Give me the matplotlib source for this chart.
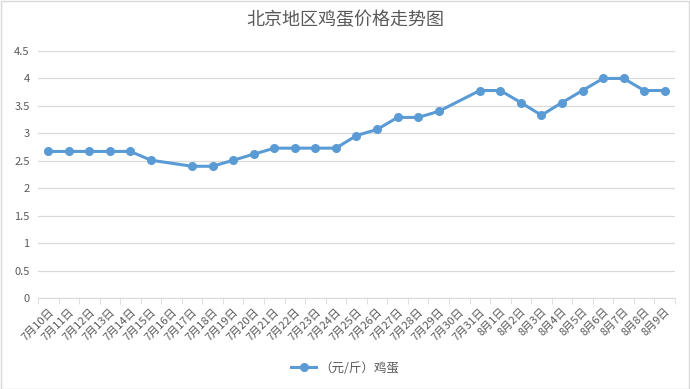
import matplotlib.pyplot as plt
import numpy as np

plt.rcParams['font.family'] = ['Noto Sans CJK SC', 'DejaVu Sans']

# 日期 (7月10日 - 8月9日)
dates = ['7月%d日' % d for d in range(10, 32)] + ['8月%d日' % d for d in range(1, 10)]

# 鸡蛋价格 (元/斤), None = 当天无数据
prices = [2.67, 2.67, 2.67, 2.67, 2.67, 2.51, None, 2.40, 2.40, 2.51,
          2.62, 2.73, 2.73, 2.73, 2.73, 2.96, 3.07, 3.29, 3.29, 3.40,
          None, 3.78, 3.78, 3.56, 3.33, 3.56, 3.78, 4.00, 4.00, 3.78, 3.78]

grey = '#595959'
blue = '#5b9bd5'

fig = plt.figure(figsize=(6.9, 3.89), dpi=100)
ax = fig.add_axes([38 / 690, 1 - 298 / 389, 637 / 690, 247 / 389])

# 空值处用线连接
xs = [i for i, p in enumerate(prices) if p is not None]
ys = [p for p in prices if p is not None]
ax.plot(xs, ys, color=blue, linewidth=2.2, marker='o', markersize=5.5,
        label='（元/斤）鸡蛋')

ax.set_ylim(0, 4.5)
ax.set_yticks(np.arange(0, 4.51, 0.5))
ax.set_yticklabels(['0', '0.5', '1', '1.5', '2', '2.5', '3', '3.5', '4', '4.5'])
ax.set_xlim(-0.5, len(dates) - 0.5)
ax.set_xticks(range(len(dates)))
ax.set_xticklabels(dates, rotation=45, ha='right', rotation_mode='anchor')
ax.set_xticks(np.arange(-0.5, len(dates), 1), minor=True)

ax.grid(axis='y', color='#d9d9d9', linewidth=0.9)
ax.set_axisbelow(True)
for s in ['left', 'right', 'top']:
    ax.spines[s].set_visible(False)
ax.spines['bottom'].set_color('#d9d9d9')
ax.tick_params(axis='y', length=0, labelsize=8, labelcolor=grey, pad=6)
ax.tick_params(axis='x', which='major', length=0, labelsize=8, labelcolor=grey, pad=6)
ax.tick_params(axis='x', which='minor', length=4, color='#d9d9d9')

fig.text(0.5, 1 - 20 / 389, '北京地区鸡蛋价格走势图', ha='center', va='center',
         fontsize=13, color=grey)

ax.legend(loc='center', bbox_to_anchor=(0.5, 1 - 368 / 389), bbox_transform=fig.transFigure,
          frameon=False, fontsize=9, labelcolor=grey, handlelength=2, handletextpad=0.2)

# 外框
fig.patches.append(plt.Rectangle((0.001, 0.001), 0.998, 0.997, transform=fig.transFigure,
                                 fill=False, edgecolor='#d9d9d9', linewidth=1))

fig.savefig('out.png', dpi=100)
